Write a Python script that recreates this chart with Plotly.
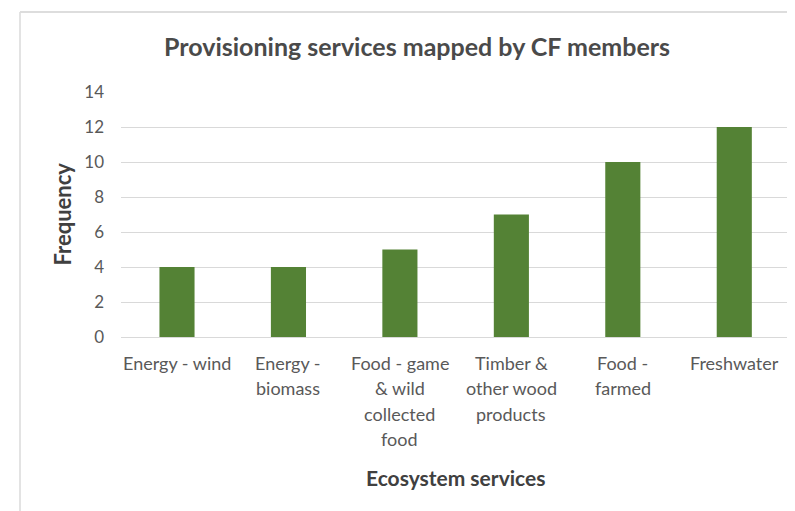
import plotly.graph_objects as go

categories = ["Energy - wind", "Energy - biomass", "Food - game & wild collected food",
              "Timber & other wood products", "Food - farmed", "Freshwater"]
label_lines = [["Energy - wind"], ["Energy -", "biomass"], ["Food - game", "& wild", "collected", "food"],
               ["Timber &", "other wood", "products"], ["Food -", "farmed"], ["Freshwater"]]
frequency = [4, 4, 5, 7, 10, 12]
y_ticks = [0, 2, 4, 6, 8, 10, 12, 14]

# the page body adds an 8px offset; the figure is sized to fill the rest of the window
W, H = 787, 503
L, R, T, B = 113, 5, 84, 174
pw, ph = W - L - R, H - T - B

def px(x):
    return (x - L) / pw

def py(y):
    return (H - B - y) / ph

FONT = "Lato"
TXT = "#595959"

fig = go.Figure(go.Bar(x=categories, y=frequency, marker_color="#548235", marker_line_width=0))

ann = []
for cat, lines in zip(categories, label_lines):
    for i, ln in enumerate(lines):
        ann.append(dict(x=cat, xref="x", y=0, yref="paper", text=ln, showarrow=False,
                        yanchor="middle", yshift=-(26 + 25.3 * i),
                        font=dict(family=FONT, size=18, color=TXT)))
ann.append(dict(x=0.5, xref="paper", y=0, yref="paper", yshift=-140, text="<b>Ecosystem services</b>",
                showarrow=False, yanchor="middle", font=dict(family=FONT, size=21, color="#404040")))
ann.append(dict(x=px(54), xref="paper", y=0.5, yref="paper", text="<b>Frequency</b>", textangle=-90,
                showarrow=False, xanchor="center", font=dict(family=FONT, size=22, color="#404040")))

shapes = [
    dict(type="line", xref="paper", yref="paper", x0=px(12), x1=px(12), y0=py(4), y1=py(H),
         line=dict(color="#E3E3E3", width=2), layer="below"),
    dict(type="line", xref="paper", yref="paper", x0=px(12), x1=px(W), y0=py(4), y1=py(4),
         line=dict(color="#DDDDDD", width=2), layer="below"),
]

fig.update_layout(
    width=W, height=H,
    margin=dict(l=L, r=R, t=T, b=B),
    paper_bgcolor="white", plot_bgcolor="white",
    bargap=0.685,
    showlegend=False,
    title=dict(text="<b>Provisioning services mapped by CF members</b>", x=px(409), xref="paper",
               xanchor="center", y=1 - 39 / H, yref="container", yanchor="middle",
               font=dict(family=FONT, size=25, color="#4a4a4a")),
    annotations=ann,
    shapes=shapes,
)
fig.update_xaxes(showticklabels=False, showgrid=False, showline=False, ticks="")
fig.update_yaxes(range=[0, 14], tickvals=y_ticks, showgrid=True, gridcolor="#D9D9D9", gridwidth=1,
                 zeroline=True, zerolinecolor="#D9D9D9", zerolinewidth=1, showline=False, ticks="",
                 ticklabelstandoff=16, tickfont=dict(family=FONT, size=17, color=TXT))

fig.write_html("out.html")
